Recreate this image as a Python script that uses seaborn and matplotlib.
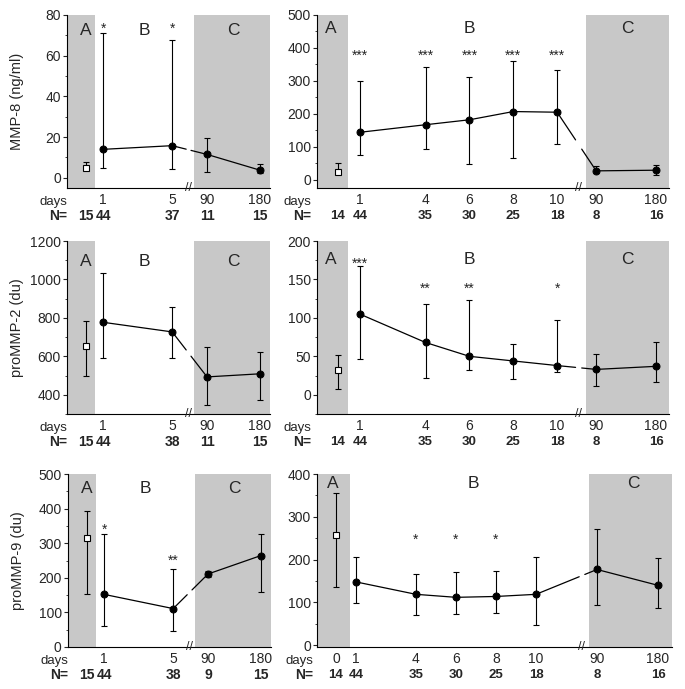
import matplotlib.pyplot as plt
import numpy as np
import seaborn as sns
from matplotlib.ticker import MultipleLocator

sns.set_style("ticks")
plt.rcParams["font.family"] = ["Liberation Sans", "DejaVu Sans"]

GRAY = "#c8c8c8"

# Values. Day 0 = control group (region A).
# MMP-8 (ng/ml)
mmp8_l_days = [0, 1, 5, 90, 180]
mmp8_l_mean = [5, 14, 15.8, 11.5, 3.8]
mmp8_l_low = [4, 4.9, 4.3, 3.0, 2.4]
mmp8_l_high = [8, 71.3, 67.5, 19.4, 6.6]
mmp8_l_n = [15, 44, 37, 11, 15]
mmp8_l_stars = ["", "*", "*", "", ""]
mmp8_l_star_y = [0, 75, 75, 0, 0]

mmp8_r_days = [0, 1, 4, 6, 8, 10, 90, 180]
mmp8_r_mean = [25, 144, 167, 182, 207, 205, 27, 29]
mmp8_r_low = [18, 76, 93, 48, 66, 109, 20, 15]
mmp8_r_high = [51, 301, 342, 312, 361, 332, 41, 44]
mmp8_r_n = [14, 44, 35, 30, 25, 18, 8, 16]
mmp8_r_stars = ["", "***", "***", "***", "***", "***", "", ""]
mmp8_r_star_y = [0, 387, 387, 387, 387, 387, 0, 0]

# proMMP-2 (du)
pro2_l_days = [0, 1, 5, 90, 180]
pro2_l_mean = [655, 777, 727, 493, 509]
pro2_l_low = [496, 590, 592, 347, 374]
pro2_l_high = [782, 1032, 856, 651, 625]
pro2_l_n = [15, 44, 38, 11, 15]
pro2_l_stars = ["", "", "", "", ""]
pro2_l_star_y = [0, 0, 0, 0, 0]

pro2_r_days = [0, 1, 4, 6, 8, 10, 90, 180]
pro2_r_mean = [32, 105, 68, 50, 44, 38, 33, 37]
pro2_r_low = [7, 46, 22, 32, 20, 29, 12, 16]
pro2_r_high = [52, 167, 118, 123, 66, 97, 53, 68]
pro2_r_n = [14, 44, 35, 30, 25, 18, 8, 16]
pro2_r_stars = ["", "***", "**", "**", "", "*", "", ""]
pro2_r_star_y = [0, 175, 143, 143, 0, 143, 0, 0]

# proMMP-9 (du)
pro9_l_days = [0, 1, 5, 90, 180]
pro9_l_mean = [315, 152, 111, 211, 264]
pro9_l_low = [152, 60, 45, 203, 160]
pro9_l_high = [392, 327, 226, 219, 328]
pro9_l_n = [15, 44, 38, 9, 15]
pro9_l_stars = ["", "*", "**", "", ""]
pro9_l_star_y = [0, 348, 260, 0, 0]

pro9_r_days = [0, 1, 4, 6, 8, 10, 90, 180]
pro9_r_mean = [258, 148, 119, 112, 114, 119, 177, 140]
pro9_r_low = [135, 99, 70, 74, 76, 48, 95, 86]
pro9_r_high = [355, 206, 166, 170, 174, 206, 271, 203]
pro9_r_n = [14, 44, 35, 30, 25, 18, 8, 16]
pro9_r_stars = ["", "", "*", "*", "*", "", "", ""]
pro9_r_star_y = [0, 0, 255, 255, 255, 0, 0, 0]

# x layout: days 0-10 linear, days 90/180 squeezed in after the axis break
LEFT = dict(xlim=(-1.1, 10.67), c0=7.02, cscale=3.05, brk=5.95, c_start=6.25,
            a_end=0.55, letters=(0, 3.4, 8.55), nsize=10, show0=False, lab_x=0.0)
RIGHT = dict(xlim=(-0.95, 15.1), c0=11.78, cscale=2.73, brk=10.98, c_start=11.3,
             a_end=0.45, letters=(-0.3, 6.0, 13.2), nsize=9.5, show0=False, lab_x=-0.015)
RIGHT3 = dict(xlim=(-0.95, 16.8), c0=13.05, cscale=3.05, brk=12.3, c_start=12.65,
              a_end=0.7, letters=(-0.15, 6.85, 14.85), nsize=9.5, show0=True, lab_x=-0.01)


def to_pos(days, lay):
    d = np.asarray(days, float)
    return np.where(d <= 10, d, lay["c0"] + (d - 90) / 90 * lay["cscale"])


def draw_panel(ax, lay, days, mean, low, high, n, stars, star_y,
               ylim, ymajor, yminor, ylabel, letter_y):
    days = np.asarray(days)
    mean, low, high = (np.asarray(v, float) for v in (mean, low, high))
    pos = to_pos(days, lay)
    x0, x1 = lay["xlim"]
    ax.set_xlim(x0, x1)
    ax.set_ylim(*ylim)

    # shaded periods A and C
    ax.axvspan(x0, lay["a_end"], color=GRAY, lw=0, zorder=0)
    ax.axvspan(lay["c_start"], x1, color=GRAY, lw=0, zorder=0)

    ax.errorbar(pos, mean, yerr=[mean - low, high - mean], fmt="none",
                ecolor="black", elinewidth=0.8, capsize=2.2, capthick=0.8, zorder=2)

    b = (days >= 1) & (days <= 10)
    c = days >= 90
    for m in (b, c):
        sns.lineplot(x=pos[m], y=mean[m], ax=ax, color="black", lw=0.9,
                     marker="o", markersize=5, markeredgecolor="black", zorder=3)

    # link across the axis break, interrupted at the break
    xa, xb = pos[b][-1], pos[c][0]
    ya, yb = mean[b][-1], mean[c][0]
    g = 0.14
    for seg in ((xa, lay["brk"] - g), (lay["brk"] + g, xb)):
        ax.plot(seg, np.interp(seg, [xa, xb], [ya, yb]), color="black", lw=0.9, zorder=3)

    # control group
    ax.plot(pos[:1], mean[:1], marker="s", ms=4.2, mfc="white", mec="black",
            mew=0.8, ls="none", zorder=4)

    for p, s, sy in zip(pos, stars, star_y):
        if s:
            ax.annotate(s, (p, sy), xytext=(0, -5.5), textcoords="offset points",
                        ha="center", va="baseline", fontsize=10)

    tr = ax.get_xaxis_transform()
    for lx, letter in zip(lay["letters"], "ABC"):
        ax.text(lx, letter_y, letter, transform=tr, ha="center", va="center", fontsize=12.5)
    ax.text(lay["brk"], 0, "//", transform=tr, ha="center", va="center",
            fontsize=9, clip_on=False)

    show = np.ones(len(days), bool) if lay["show0"] else days > 0
    ax.set_xticks(pos[show], [str(d) for d in days[show]])
    ax.tick_params(axis="x", length=0, pad=3.5, labelsize=10)

    for p, k in zip(pos, n):
        ax.annotate(str(k), (p, 0), xycoords=tr, xytext=(0, -20),
                    textcoords="offset points", ha="center", va="center",
                    fontsize=lay["nsize"], fontweight="bold")
    ax.annotate("days", (lay["lab_x"], 0), xycoords="axes fraction", xytext=(0, -10),
                textcoords="offset points", ha="right", va="center", fontsize=9.5)
    ax.annotate("N=", (lay["lab_x"], 0), xycoords="axes fraction", xytext=(0, -20),
                textcoords="offset points", ha="right", va="center", fontsize=10,
                fontweight="bold")

    ax.yaxis.set_major_locator(MultipleLocator(ymajor))
    ax.yaxis.set_minor_locator(MultipleLocator(yminor))
    ax.tick_params(axis="y", which="major", direction="out", length=3, width=0.8,
                   pad=1.5, labelsize=10)
    ax.tick_params(axis="y", which="minor", direction="out", length=1.8, width=0.6)

    sns.despine(ax=ax)
    for side in ("left", "bottom"):
        ax.spines[side].set_linewidth(0.8)
        ax.spines[side].set_color("black")

    ax.set_xlabel("")
    if ylabel:
        ax.set_ylabel(ylabel, fontsize=10.5)
        ax.yaxis.set_label_coords(-0.21, 0.5)


W, H = 685, 689
fig = plt.figure(figsize=(W / 100, H / 100), dpi=100)


def add_ax(l, t, r, b):
    return fig.add_axes([l / W, 1 - b / H, (r - l) / W, (b - t) / H])


draw_panel(add_ax(67, 15, 270, 188), LEFT, mmp8_l_days, mmp8_l_mean, mmp8_l_low,
           mmp8_l_high, mmp8_l_n, mmp8_l_stars, mmp8_l_star_y,
           (-5, 80), 20, 10, "MMP-8 (ng/ml)", 0.91)
draw_panel(add_ax(317, 15, 669, 188), RIGHT, mmp8_r_days, mmp8_r_mean, mmp8_r_low,
           mmp8_r_high, mmp8_r_n, mmp8_r_stars, mmp8_r_star_y,
           (-25, 500), 100, 50, None, 0.92)
draw_panel(add_ax(67, 241, 270, 414), LEFT, pro2_l_days, pro2_l_mean, pro2_l_low,
           pro2_l_high, pro2_l_n, pro2_l_stars, pro2_l_star_y,
           (300, 1200), 200, 100, "proMMP-2 (du)", 0.88)
draw_panel(add_ax(317, 241, 669, 414), RIGHT, pro2_r_days, pro2_r_mean, pro2_r_low,
           pro2_r_high, pro2_r_n, pro2_r_stars, pro2_r_star_y,
           (-25, 200), 50, 25, None, 0.895)
draw_panel(add_ax(68, 474, 271, 647), LEFT, pro9_l_days, pro9_l_mean, pro9_l_low,
           pro9_l_high, pro9_l_n, pro9_l_stars, pro9_l_star_y,
           (0, 500), 100, 50, "proMMP-9 (du)", 0.915)
draw_panel(add_ax(317, 474, 672, 647), RIGHT3, pro9_r_days, pro9_r_mean, pro9_r_low,
           pro9_r_high, pro9_r_n, pro9_r_stars, pro9_r_star_y,
           (-4, 400), 100, 50, None, 0.945)

fig.savefig("out.png", dpi=100)
